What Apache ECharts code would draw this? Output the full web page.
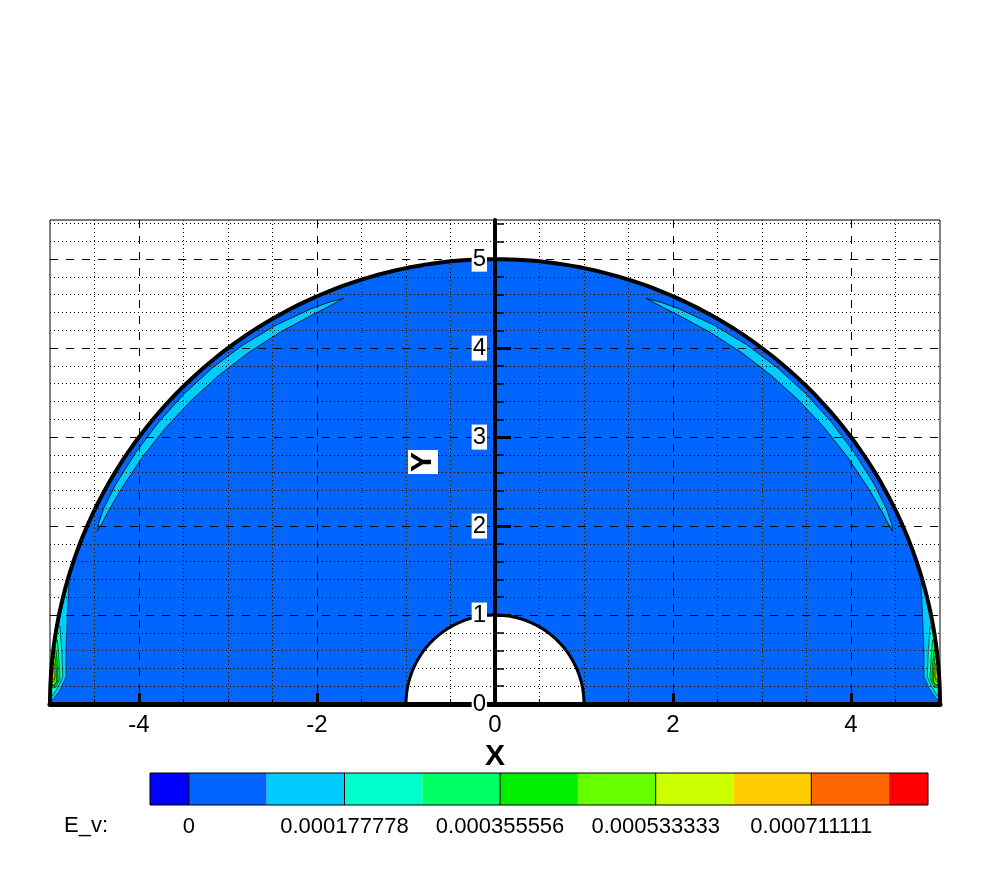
<!DOCTYPE html>
<html><head><meta charset="utf-8">
<script src="https://cdn.jsdelivr.net/npm/echarts@6/dist/echarts.min.js"></script>
<style>html,body{margin:0;padding:0;background:#fff}#c{width:990px;height:881px}</style>
</head><body><div id="c"></div>
<script>
// ---------------- data ----------------
const xRange = [-5, 5];
const yRange = [0, 5.44];
const xTickValues = [-4, -2, 0, 2, 4];
const yTickValues = [0, 1, 2, 3, 4, 5];
const domainRadii = [1, 5]; // cylinder radius, outer boundary radius
const levelValues = [0, 0.0000888889, 0.000177778, 0.000266667, 0.000355556, 0.000444444, 0.000533333, 0.000622222, 0.000711111, 0.0008];
const levelColors = ['#0000ff', '#0066ff', '#00ccff', '#00ffcc', '#00ff66', '#00ee00', '#66ff00', '#ccff00', '#ffcc00', '#ff6600', '#ff0000'];
const colorbarRange = [-0.0000444444, 0.000844444];
const colorbarTickValues = [0, 0.000177778, 0.000355556, 0.000533333, 0.000711111];
const colorbarTickLabels = ['0', '0.000177778', '0.000355556', '0.000533333', '0.000711111'];
const backgroundLevel = 1;
// crescent band (right half): [angle deg, r inner, r outer]; mirrored on left
const crescentLevel = 2;
const crescentRight = [
  [69.6, 4.866, 4.866], [67.5, 4.845, 4.885], [65, 4.832, 4.9], [60, 4.826, 4.918],
  [55, 4.824, 4.93], [50, 4.824, 4.935], [45, 4.826, 4.935], [40, 4.83, 4.932],
  [35, 4.836, 4.928], [30, 4.845, 4.925], [26.5, 4.855, 4.915], [24.5, 4.862, 4.895],
  [23.5, 4.87, 4.87]
];
// corner contour bands near (±5, 0): inner edge points [x, y] (right half)
const cornerLevel2 = [[4.787, 1.356], [4.805, 0.981], [4.82, 0.607], [4.82, 0.307], [4.888, 0.157], [4.97, 0.045]];
const cornerLevel3 = [[4.888, 0.869], [4.869, 0.607], [4.857, 0.307], [4.917, 0.176], [4.98, 0.082]];
const cornerLevel4 = [[4.917, 0.719], [4.899, 0.494], [4.888, 0.288], [4.933, 0.187]];
const cornerLevel5 = [[4.933, 0.607], [4.914, 0.419], [4.91, 0.27], [4.948, 0.202]];
const cornerLevel6 = [[4.944, 0.532], [4.929, 0.382], [4.929, 0.251], [4.955, 0.217]];
const cornerLevel7 = [[4.951, 0.457], [4.94, 0.326], [4.955, 0.251]];
const cornerLevel8 = [[4.959, 0.401], [4.951, 0.307], [4.959, 0.27]];
const cornerBands = [[2, cornerLevel2], [3, cornerLevel3], [4, cornerLevel4], [5, cornerLevel5], [6, cornerLevel6], [7, cornerLevel7], [8, cornerLevel8]];

// ---------------- rendering ----------------
const FONT = '"Liberation Sans", Arial, sans-serif';
const GRID_LEFT = 50, GRID_RIGHT = 50;
const PLOT_W = 990 - GRID_LEFT - GRID_RIGHT;
// y axis sits at x = 0: shift it from the left edge by the pixel distance of x=0
const yAxisOffset = -PLOT_W * (0 - xRange[0]) / (xRange[1] - xRange[0]);
const chart = echarts.init(document.getElementById('c'), null, {renderer: 'canvas'});

function renderField(params, api) {
  const children = [];
  const [rIn, rOut] = domainRadii;
  const P = (x, y) => api.coord([x, y]);
  const arc = (r, a0, a1, side) => {
    const pts = [];
    const n = Math.max(2, Math.ceil(Math.abs(a1 - a0)));
    for (let i = 0; i <= n; i++) {
      const a = (a0 + (a1 - a0) * i / n) * Math.PI / 180;
      pts.push(P(side * r * Math.cos(a), r * Math.sin(a)));
    }
    return pts;
  };
  children.push({type: 'polygon', shape: {points: arc(rOut, 0, 180, 1).concat(arc(rIn, 180, 0, 1))},
    style: {fill: levelColors[backgroundLevel], stroke: null}});
  [1, -1].forEach(side => {
    const toPt = (a, r) => { const t = a * Math.PI / 180; return P(side * r * Math.cos(t), r * Math.sin(t)); };
    const inner = crescentRight.map(d => toPt(d[0], d[1]));
    const outer = crescentRight.slice().reverse().map(d => toPt(d[0], d[2]));
    children.push({type: 'polygon', shape: {points: inner.concat(outer)},
      style: {fill: levelColors[crescentLevel], stroke: '#000', lineWidth: 0.8}});
    cornerBands.forEach(([lvl, pts]) => {
      const edge = pts.map(p => P(side * p[0], p[1]));
      const aLast = Math.atan2(pts[pts.length - 1][1], pts[pts.length - 1][0]) * 180 / Math.PI;
      const aFirst = Math.atan2(pts[0][1], pts[0][0]) * 180 / Math.PI;
      const close = arc(rOut - 0.01, aLast, aFirst, side);
      children.push({type: 'polygon', shape: {points: edge.concat(close)},
        style: {fill: levelColors[lvl], stroke: '#000', lineWidth: 0.6}});
    });
  });
  children.push({type: 'polyline', shape: {points: arc(rOut, 0, 180, 1)}, style: {stroke: '#000', lineWidth: 4, fill: null}});
  children.push({type: 'polyline', shape: {points: arc(rIn, 0, 180, 1)}, style: {stroke: '#000', lineWidth: 3, fill: null}});
  return {type: 'group', children};
}

function renderColorbar(params, api) {
  const children = [];
  const edges = [colorbarRange[0]].concat(levelValues, [colorbarRange[1]]);
  for (let i = 0; i < levelColors.length; i++) {
    const p0 = api.coord([edges[i], 1]);
    const p1 = api.coord([edges[i + 1], 0]);
    children.push({type: 'rect', shape: {x: p0[0], y: p0[1], width: p1[0] - p0[0], height: p1[1] - p0[1]},
      style: {fill: levelColors[i], stroke: null}});
  }
  colorbarTickValues.forEach(v => {
    const a = api.coord([v, 1]), b = api.coord([v, 0]);
    children.push({type: 'line', shape: {x1: a[0], y1: a[1], x2: b[0], y2: b[1]}, style: {stroke: '#000', lineWidth: 1}});
  });
  const q0 = api.coord([colorbarRange[0], 1]), q1 = api.coord([colorbarRange[1], 0]);
  children.push({type: 'rect', shape: {x: q0[0], y: q0[1], width: q1[0] - q0[0], height: q1[1] - q0[1]},
    style: {fill: null, stroke: '#000', lineWidth: 1}});
  return {type: 'group', children};
}

function nearestLabel(v) {
  let best = 0;
  colorbarTickValues.forEach((t, i) => { if (Math.abs(t - v) < Math.abs(colorbarTickValues[best] - v)) best = i; });
  return colorbarTickLabels[best];
}

const option = {
  animation: false,
  backgroundColor: '#fff',
  grid: [
    {left: GRID_LEFT, right: GRID_RIGHT, top: 220, bottom: 177, show: true, borderColor: '#000', borderWidth: 1,
     backgroundColor: 'transparent', containLabel: false, outerBoundsMode: 'none'},
    {left: 150, right: 62, top: 773, height: 32, containLabel: false, outerBoundsMode: 'none'}
  ],
  xAxis: [
    {
      gridIndex: 0, type: 'value', min: xRange[0], max: xRange[1], splitNumber: 5, z: 0,
      name: 'X', nameLocation: 'middle', nameGap: 30,
      nameTextStyle: {fontSize: 30, fontWeight: 'bold', color: '#000', fontFamily: FONT},
      axisLine: {onZero: false, lineStyle: {color: '#000', width: 5}},
      axisTick: {inside: true, length: 11, customValues: xTickValues, lineStyle: {color: '#000', width: 3}},
      minorTick: {show: true, splitNumber: 4, length: 5, lineStyle: {color: '#000', width: 1}},
      axisLabel: {customValues: xTickValues, fontSize: 24, color: '#000', fontFamily: FONT, margin: 9},
      splitLine: {show: true, lineStyle: {color: '#000', width: 1, type: [8, 8]}},
      minorSplitLine: {show: true, lineStyle: {color: '#000', width: 1, type: [1, 3]}}
    },
    {
      gridIndex: 1, type: 'value', min: colorbarRange[0], max: colorbarRange[1],
      axisLine: {show: false}, axisTick: {show: false}, splitLine: {show: false},
      axisLabel: {customValues: colorbarTickValues, formatter: nearestLabel, fontSize: 22, color: '#000', fontFamily: FONT, margin: 11}
    }
  ],
  yAxis: [
    {
      gridIndex: 0, type: 'value', min: yRange[0], max: yRange[1], interval: 1, z: 1,
      position: 'left', offset: yAxisOffset,
      name: 'Y', nameLocation: 'middle', nameGap: 57, nameRotate: 90,
      nameTextStyle: {fontSize: 30, fontWeight: 'bold', color: '#000', fontFamily: FONT, backgroundColor: '#fff', padding: [0, 2, 0, 2]},
      axisLine: {onZero: false, lineStyle: {color: '#000', width: 4}},
      axisTick: {inside: true, length: 16, customValues: yTickValues, lineStyle: {color: '#000', width: 3}},
      minorTick: {show: true, splitNumber: 5, length: 9, lineStyle: {color: '#000', width: 1.5}},
      axisLabel: {customValues: yTickValues, fontSize: 24, color: '#000', fontFamily: FONT, margin: 8,
        backgroundColor: '#fff', padding: [1, 1, 0, 1]},
      splitLine: {show: true, lineStyle: {color: '#000', width: 1, type: [8, 8]}},
      minorSplitLine: {show: true, lineStyle: {color: '#000', width: 1, type: [1, 3]}}
    },
    {gridIndex: 1, type: 'value', min: 0, max: 1, show: false}
  ],
  graphic: [
    {type: 'text', left: 64, top: 815, style: {text: 'E_v:', fontSize: 22, fill: '#000', fontFamily: FONT}}
  ],
  series: [
    {type: 'custom', xAxisIndex: 0, yAxisIndex: 0, z: -1, silent: true, clip: false, data: [[0, 0]], renderItem: renderField},
    {type: 'custom', xAxisIndex: 1, yAxisIndex: 1, z: 2, silent: true, data: [[0, 0]], renderItem: renderColorbar}
  ]
};
chart.setOption(option);
</script>
</body></html>
